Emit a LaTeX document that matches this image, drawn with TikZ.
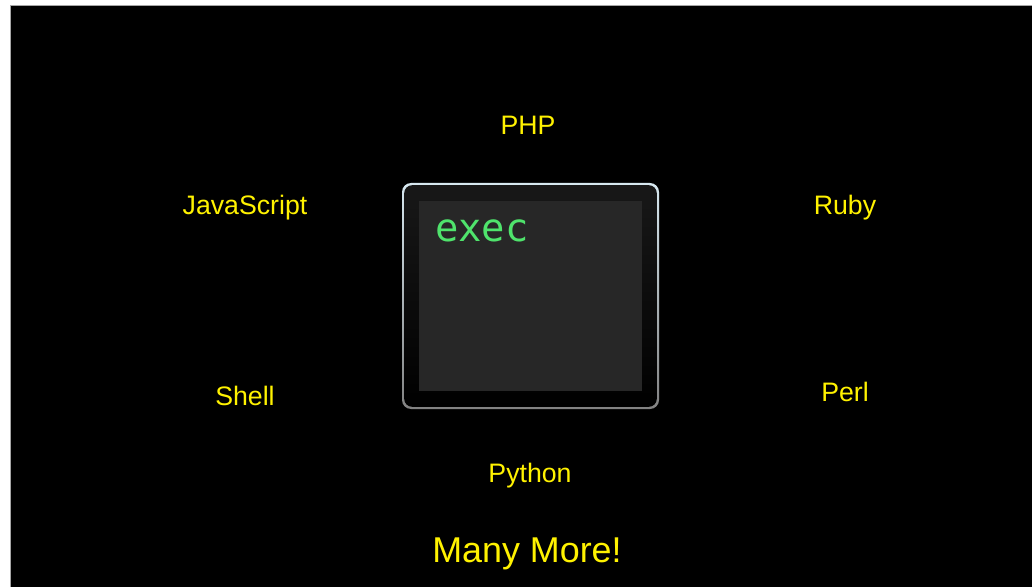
\documentclass[tikz,border=0pt]{standalone}
\usepackage{fontspec}
\setmainfont{Liberation Sans}
\newfontfamily\execfont{DejaVu Sans Mono}
\definecolor{lblyellow}{HTML}{FFF200}
\definecolor{execgreen}{HTML}{4FE36C}
\definecolor{screen}{HTML}{272727}
\begin{document}
\begin{tikzpicture}[x=1bp,y=-1bp,
  lang/.style={text=lblyellow,font=\fontsize{26.8}{30}\selectfont,inner sep=0pt,anchor=center}]
\useasboundingbox (0,0) rectangle (1032,587);
\fill[white] (0,0) rectangle (1032,587);
\fill[black] (10,5) rectangle (1032,587);
\draw[gray!70,line width=0.8bp] (10,587) -- (10,5) -- (1032,5);
% terminal box
\shade[top color={rgb,255:red,215;green,232;blue,240},bottom color={rgb,255:red,130;green,130;blue,130},rounded corners=9bp]
  (402,183) rectangle (659,409);
\shade[top color={rgb,255:red,24;green,24;blue,24},bottom color=black,rounded corners=8bp]
  (404.2,185.2) rectangle (656.8,406.8);
\node[fill=screen,minimum width=223bp,minimum height=190bp,inner sep=0pt,anchor=north west] (screen) at (419,201) {};
\node[text=execgreen,font=\execfont\fontsize{39}{42}\selectfont,inner sep=0pt,anchor=base west] (exec) at (435,242) {exec};
% labels
\node[lang] (php) at (528,125) {PHP};
\node[lang] (js) at (245,208) {JavaScript};
\node[lang] (ruby) at (845,208) {Ruby};
\node[lang] (shell) at (245,396) {Shell};
\node[lang] (perl) at (845,392) {Perl};
\node[lang] (python) at (530,476) {Python};
\node[lang,font=\fontsize{36}{40}\selectfont] (more) at (527,554) {Many More!};
\end{tikzpicture}
\end{document}
